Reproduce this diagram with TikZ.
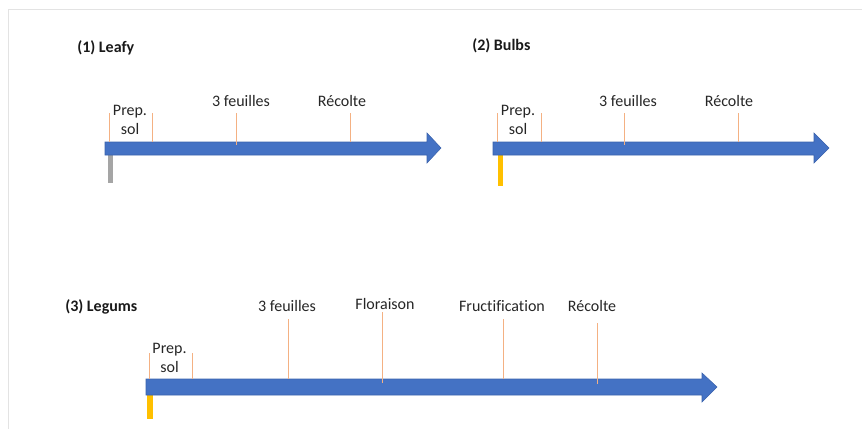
\documentclass[tikz,border=0pt]{standalone}
\usepackage{fontspec}
\setmainfont{Carlito}[Ligatures=NoCommon]
\begin{document}
\begin{tikzpicture}[x=0.75pt,y=-0.75pt,
  lbl/.style={inner sep=0pt,font=\fontsize{12}{14.3}\selectfont,text=black!85,align=center},
  ttl/.style={inner sep=0pt,anchor=west,font=\fontsize{12}{14.3}\selectfont\bfseries,text=black!90},
  tick/.style={draw=tickorange,line width=0.75pt},
  timeline/.style={fill=arrowblue,draw=arrowedge,line width=0.4pt},
  startbar/.style={line width=3.8pt}]
\definecolor{arrowblue}{HTML}{4472C4}
\definecolor{arrowedge}{HTML}{3A62AC}
\definecolor{tickorange}{HTML}{F4B183}
\definecolor{framegray}{HTML}{E3E3E3}
\definecolor{bargray}{HTML}{A5A5A5}
\definecolor{baryellow}{HTML}{FFC000}
\useasboundingbox (0,0) rectangle (862,429);

% frame
\draw[framegray,line width=1.2pt] (8.5,429) -- (8.5,9.5) -- (862,9.5);

% ---------- (1) Leafy ----------
\node[ttl] (t1) at (77,48) {(1) Leafy};
\draw[bargray,startbar] (110.5,155) -- (110.5,183);
\draw[timeline] (105,142) -- (427,142) -- (427,133) -- (441,148) -- (427,163) -- (427,155) -- (105,155) -- cycle;
\draw[tick] (109,113) -- (109,142);
\draw[tick] (152,113) -- (152,142);
\draw[tick] (236,113) -- (236,145);
\draw[tick] (350,113) -- (350,142);
\node[lbl] (a1) at (130,120) {Prep.\\sol};
\node[lbl] (a2) at (241,101) {3 feuilles};
\node[lbl] (a3) at (342,101) {Récolte};

% ---------- (2) Bulbs ----------
\node[ttl] (t2) at (472,46) {(2) Bulbs};
\draw[baryellow,startbar] (500.5,155) -- (500.5,186);
\draw[timeline] (493,142) -- (814,142) -- (814,133) -- (829,148) -- (814,163) -- (814,155) -- (493,155) -- cycle;
\draw[tick] (497,113) -- (497,142);
\draw[tick] (541,113) -- (541,142);
\draw[tick] (624,113) -- (624,145);
\draw[tick] (738,113) -- (738,142);
\node[lbl] (b1) at (518,120) {Prep.\\sol};
\node[lbl] (b2) at (628,101) {3 feuilles};
\node[lbl] (b3) at (729,101) {Récolte};

% ---------- (3) Legums ----------
\node[ttl] (t3) at (65,307) {(3) Legums};
\draw[baryellow,startbar] (150,395) -- (150,419);
\draw[timeline] (146,379) -- (702,379) -- (702,373) -- (717,387) -- (702,402) -- (702,395) -- (146,395) -- cycle;
\draw[tick] (149,353) -- (149,379);
\draw[tick] (192,353) -- (192,379);
\draw[tick] (288,319) -- (288,379);
\draw[tick] (382,312) -- (382,383);
\draw[tick] (503,319) -- (503,379);
\draw[tick] (597,323) -- (597,384);
\node[lbl] (c1) at (169.5,358) {Prep.\\sol};
\node[lbl] (c2) at (287,306) {3 feuilles};
\node[lbl] (c3) at (385,304) {Floraison};
\node[lbl] (c4) at (502,306) {Fructification};
\node[lbl] (c5) at (592,306) {Récolte};
\end{tikzpicture}
\end{document}
